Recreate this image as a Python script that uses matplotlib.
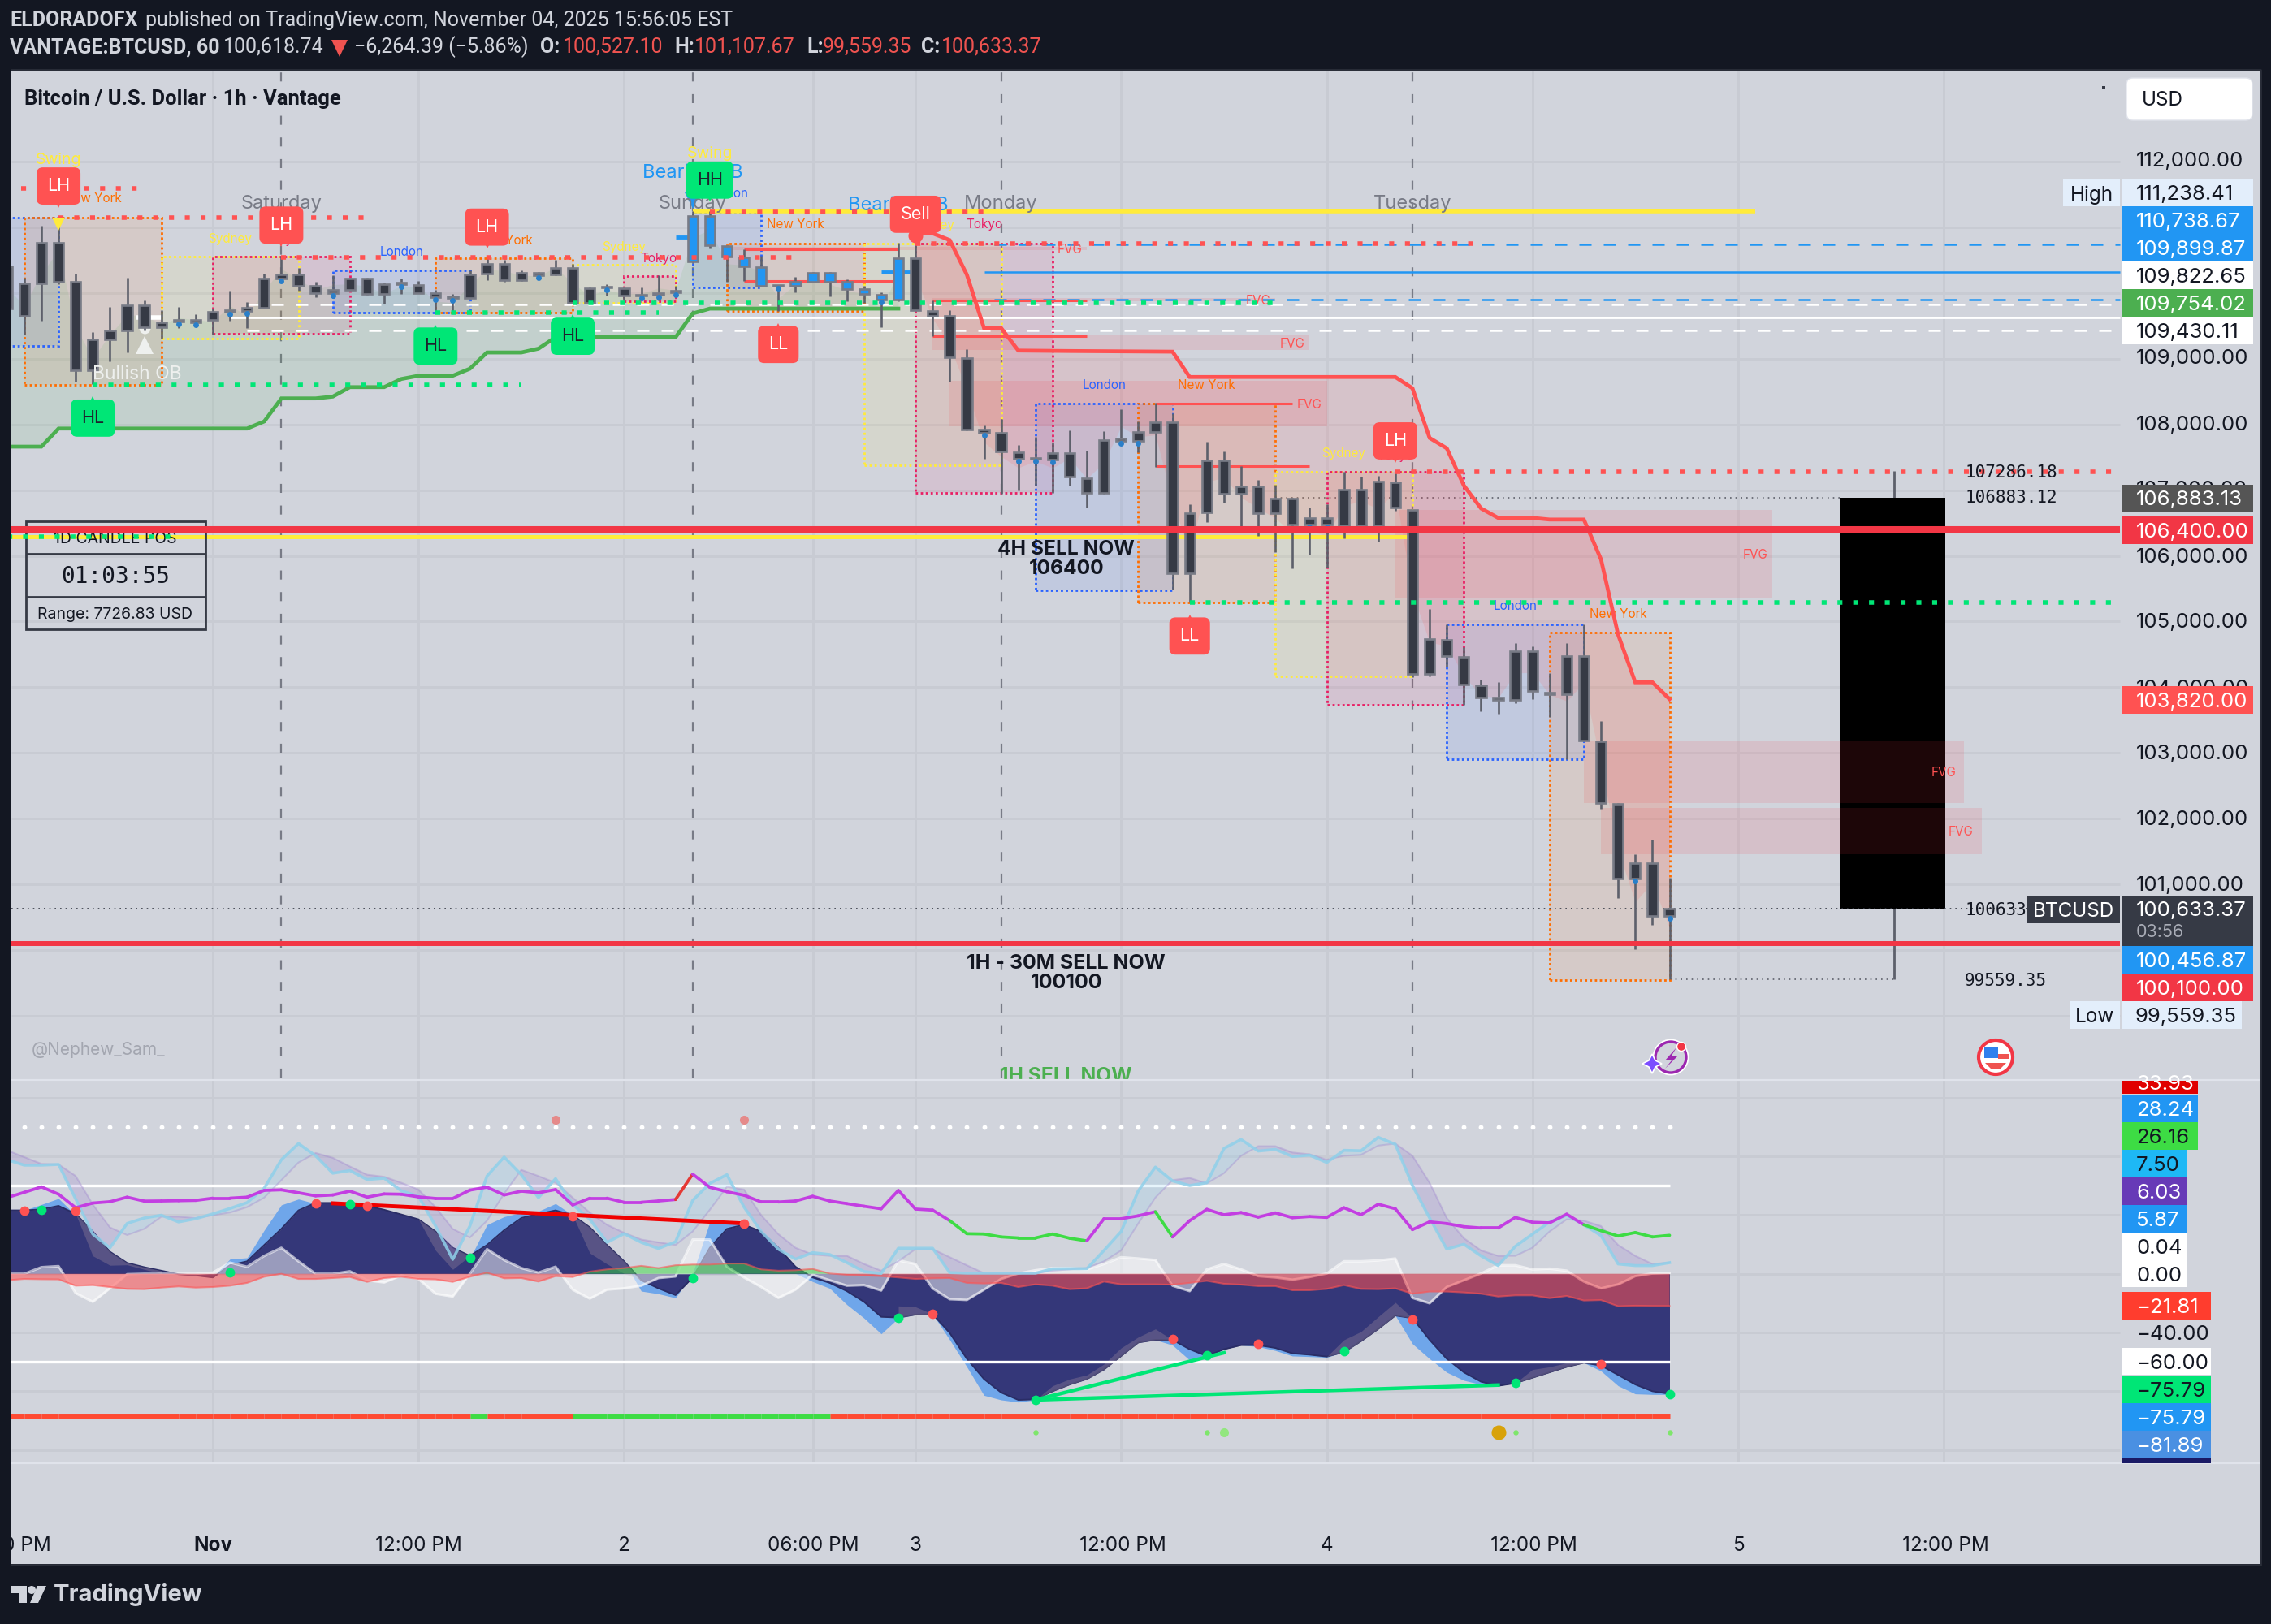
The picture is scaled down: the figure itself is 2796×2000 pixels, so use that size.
import numpy as np
import matplotlib
matplotlib.use("Agg")
import matplotlib.pyplot as plt
from matplotlib.patches import Rectangle, Circle, Polygon, FancyBboxPatch

W, H = 2796, 2000
BG = "#d1d4dc"
DARK = "#131722"
GRID = "#c8cbd3"

plt.rcParams["font.family"] = ["Inter", "DejaVu Sans"]

# -------- CANDLES (1h, hour 0 = Nov 1) --------
first_hour = -12
highs = [110398, 110234, 111016, 111160, 110296, 109398, 109781, 110226, 109884, 109731, 109781, 109670,
         109760, 110028, 109855, 110296, 110563, 110378, 110164, 110263, 110234, 110234, 110151, 110221,
         110184, 110048, 109979, 110345, 110522, 110501, 110345, 110312, 110501, 110440, 110081, 110131,
         110081, 110077, 110263, 110110, 111238, 111242, 110720, 110666, 110563, 110119, 110246, 110316,
         110316, 110205, 110110, 110007, 110761, 110761, 109884, 109740, 109143, 107982, 108077, 107686,
         107812, 107718, 107907, 107604, 107900, 108234, 108045, 108329, 108171, 106785, 107730, 107585,
         107371, 107151, 107081, 106880, 106735, 106785, 107277, 107207, 107214, 107270, 106703, 105197,
         104958, 104611, 104120, 104076, 104674, 104624, 104221, 104674, 104958, 103490, 102242, 101461,
         101681, 101108]
body_tops = [110398, 110139, 110757, 110757, 110172, 109287, 109423, 109814, 109814, 109546, 109583, 109583,
             109707, 109731, 109768, 110213, 110275, 110275, 110110, 110048, 110221, 110221, 110131, 110151,
             110123, 110000, 109941, 110283, 110440, 110440, 110304, 110308, 110378, 110378, 110069, 110090,
             110069, 109966, 110000, 110028, 111172, 111172, 110715, 110543, 110394, 110114, 110172, 110308,
             110308, 110164, 110061, 109974, 110530, 110530, 109727, 109645, 109011, 107919, 107875, 107573,
             107491, 107560, 107560, 107182, 107762, 107781, 107888, 108033, 108033, 106646, 107453, 107453,
             107056, 107056, 106873, 106873, 106571, 106571, 107006, 107006, 107132, 107119, 106703, 104731,
             104718, 104460, 104032, 103843, 104548, 104548, 103924, 104473, 104473, 103175, 102229, 101322,
             101322, 100633]
body_bots = [109760, 109645, 110139, 110172, 108822, 108822, 109287, 109423, 109472, 109472, 109567, 109554,
             109583, 109715, 109719, 109768, 110213, 110110, 109995, 109995, 110048, 109979, 109979, 110131,
             110000, 109933, 109925, 109917, 110287, 110188, 110193, 110271, 110275, 109851, 109851, 110077,
             109954, 109954, 109966, 110003, 110481, 110720, 110551, 110398, 110102, 110106, 110102, 110172,
             110164, 110061, 109979, 109892, 109892, 109740, 109649, 109019, 107916, 107875, 107585, 107472,
             107472, 107459, 107207, 106955, 106955, 107743, 107749, 107888, 105733, 105733, 106659, 106943,
             106943, 106646, 106646, 106470, 106470, 106470, 106464, 106464, 106464, 106735, 104202, 104202,
             104473, 104044, 103843, 103811, 103811, 103943, 103893, 103893, 103194, 102242, 101095, 101095,
             100528, 100527]
lows = [109760, 109369, 109575, 110131, 108649, 108607, 108957, 109093, 109431, 109307, 109464, 109505,
        109369, 109575, 109464, 109760, 110172, 110028, 109933, 109987, 110040, 109966, 109834, 109987,
        110000, 109699, 109719, 109904, 110193, 110172, 110184, 110205, 110271, 109843, 109843, 109958,
        109884, 109904, 109884, 109966, 110452, 110674, 110164, 110180, 110090, 109719, 110007, 110164,
        109946, 109871, 109851, 109480, 109876, 109727, 109340, 108649, 107908, 107478, 106943, 106993,
        107069, 106955, 107069, 106741, 106943, 107699, 107573, 107352, 105493, 105304, 106514, 106804,
        106407, 106300, 106060, 105808, 106016, 105827, 106262, 106451, 106218, 106691, 104158, 104170,
        104309, 103729, 103635, 103603, 103761, 103824, 103553, 102910, 103181, 102154, 100799, 100012,
        100390, 99559]
blue_hours = [28, 29, 30, 31, 32, 34, 35, 36, 37, 38, 39, 40]
dot_hours = [-2, -1, 1, 2, 4, 7, 11, 13, 14, 19, 23, 25, 26, 27, 33, 39, 45, 47, 48, 49, 53, 54, 64, 65, 83, 85]

# -------- TREND LINES --------
green_hours = [-12, -10, -9, 2, 3, 4, 6, 7, 8, 10, 11, 12, 14, 15, 16, 18, 19, 20, 27, 28, 29, 40]
green_trend = [107661, 107661, 107936, 107936, 108044, 108394, 108394, 108422, 108566, 108566, 108690, 108739,
               108739, 108846, 109093, 109093, 109151, 109324, 109324, 109686, 109760, 109760]
red_hours = [41, 42, 43, 44, 45, 46, 47, 50, 56, 57, 69, 70, 71, 72, 73, 74, 75, 77, 78, 80, 81, 82, 83, 84, 85]
red_trend = [110905, 110905, 110802, 110275, 109464, 109464, 109122, 109115, 109105, 108720, 108720, 108549,
             107793, 107636, 107069, 106722, 106577, 106577, 106552, 106552, 105947, 104800, 104076, 104076, 103820]

# -------- SESSIONS: name, start hour, end hour, high, low --------
sessions = [
    ("London", -12, -9, 111148, 109192), ("New York", -11, -3, 111148, 108599),
    ("Sydney", -3, 5, 110555, 109307), ("Tokyo", 0, 8, 110555, 109377),
    ("London", 7, 15, 110345, 109698), ("New York", 13, 21, 110530, 109698),
    ("Sydney", 21, 27, 110427, 109843), ("Tokyo", 24, 27, 110254, 109876),
    ("London", 28, 32, 111234, 110081), ("New York", 30, 38, 110748, 109719),
    ("Sydney", 38, 46, 110748, 107381), ("Tokyo", 41, 49, 110748, 106961),
    ("London", 48, 56, 108316, 105481), ("New York", 54, 62, 108316, 105292),
    ("Sydney", 62, 70, 107277, 104170), ("Tokyo", 65, 73, 107277, 103729),
    ("London", 72, 80, 104958, 102910), ("New York", 78, 85, 104832, 99552),
]
session_colors = {"London": "#2962ff", "New York": "#ff6d00", "Sydney": "#ffeb3b", "Tokyo": "#e91e63"}
session_labels = [
    ("New York", -7, 111430), ("Sydney", 1, 110815), ("Tokyo", 4, 110800), ("London", 11, 110615),
    ("New York", 17, 110795), ("Sydney", 24, 110690), ("Tokyo", 26, 110525), ("London", 30, 111505),
    ("New York", 34, 111040), ("Sydney", 42, 111030), ("Tokyo", 45, 111040), ("London", 52, 108595),
    ("New York", 58, 108595), ("Sydney", 66, 107555), ("Tokyo", 69, 107525), ("London", 76, 105240),
    ("New York", 82, 105110),
]

# -------- FVG: start, end, high, low, label hour --------
fvgs = [
    (30, 51, 110695, 110645, 50), (42, 62, 109920, 109870, 61), (42, 64, 109357, 109130, 63),
    (43, 65, 108660, 107970, 64), (69, 91, 106697, 105368, 90), (80, 102.2, 103190, 102240, 101),
    (81, 103.2, 102170, 101460, 102),
]

# -------- LEVELS --------
red_dotted = [(-11.2, -4, 111588), (-9, 9, 111144), (4, 34, 110545), (29, 45, 111234), (41, 73.7, 110748), (69, 111.4, 107277)]
green_dotted = [(-7, 18, 108599), (13, 26, 109699), (21, 62, 109847), (57, 111.4, 105292), (-12, -2.4, 106290)]
thin_red = [(31, 40, 110666), (31, 40, 110180), (42, 51, 109884), (42, 51, 109345), (55, 63, 108319), (55, 64, 107359)]

# -------- TAGS: hour, price, text, colour, text colour, pointer --------
RED_TAG = "#ff5252"
GREEN_TAG = "#00e676"
tags = [
    (-9, 111625, "LH", RED_TAG, "white", "v"), (4, 111030, "LH", RED_TAG, "white", "v"),
    (16, 111000, "LH", RED_TAG, "white", "v"), (-7, 108095, "HL", GREEN_TAG, "#1e222d", "^"),
    (13, 109190, "HL", GREEN_TAG, "#1e222d", "^"), (21, 109340, "HL", GREEN_TAG, "#1e222d", "^"),
    (29, 111715, "HH", GREEN_TAG, "#1e222d", "v"), (41, 111195, "Sell", RED_TAG, "white", "v"),
    (33, 109215, "LL", RED_TAG, "white", "^"), (57, 104780, "LL", RED_TAG, "white", "^"),
    (69, 107748, "LH", RED_TAG, "white", "v"),
]

# -------- OSCILLATOR --------
osc_magenta = [51.9, 55.5, 59.2, 54.2, 45.0, 48.2, 49.1, 52.2, 49.5, 49.6, 49.8, 50.0, 51.5, 51.5, 52.2, 56.8,
               57.2, 55.2, 53.1, 53.7, 56.3, 52.2, 54.4, 54.2, 52.4, 51.3, 51.3, 57.0, 59.0, 53.7, 56.3, 55.2,
               57.4, 46.9, 51.5, 51.5, 48.7, 48.7, 49.6, 50.6, 67.9, 58.9, 55.9, 53.5, 48.9, 48.9, 49.6, 52.8,
               49.6, 47.8, 46.0, 44.3, 56.8, 44.1, 43.4, 36.2, 27.3, 27.1, 25.1, 24.4, 24.4, 27.1, 24.2, 22.4,
               37.5, 37.5, 39.5, 42.3, 25.1, 36.2, 43.9, 40.2, 41.7, 38.6, 41.5, 38.2, 39.0, 38.4, 45.0, 40.2,
               47.4, 44.3, 30.1, 35.4, 34.2, 32.1, 31.2, 31.2, 38.4, 35.1, 34.7, 40.6, 33.4, 29.4, 25.7, 28.1,
               25.1, 26.2]
osc_fast = [77.7, 74.0, 74.0, 74.5, 50.9, 27.0, 17.7, 34.3, 38.0, 39.9, 35.3, 37.5, 40.8, 44.5, 48.5, 58.3,
            77.7, 88.7, 80.4, 68.5, 70.3, 64.2, 65.1, 56.5, 52.8, 32.5, 9.8, 32.5, 66.6, 79.5, 67.5, 51.9,
            64.8, 47.2, 37.1, 21.4, 27.3, 21.4, 17.2, 21.8, 50.0, 61.6, 67.5, 45.4, 28.8, 16.8, 10.0, 14.4,
            13.1, 7.6, 1.5, 0.2, 17.4, 17.4, 17.4, 0.8, 0.4, 0.4, 0.4, 0.4, 0.4, 3.4, 3.5, 3.5,
            15.9, 28.8, 56.5, 72.7, 63.3, 60.1, 62.0, 85.4, 91.5, 83.6, 84.7, 79.9, 80.8, 75.8, 84.1, 83.8,
            93.0, 88.2, 60.1, 38.0, 16.8, 20.1, 12.2, 5.6, 18.7, 27.0, 35.3, 39.9, 33.4, 26.0, 6.7, 5.6,
            5.6, 7.6]
osc_lag = [84.1, 79.5, 74.9, 74.5, 66.6, 47.2, 31.6, 26.4, 30.6, 38.9, 38.9, 38.0, 39.9, 41.7, 45.4, 51.9,
           63.8, 75.8, 82.3, 79.0, 73.1, 67.5, 66.1, 62.0, 57.4, 45.4, 30.6, 24.7, 36.2, 54.6, 70.8, 66.6,
           62.0, 51.9, 41.7, 33.4, 27.9, 23.3, 21.4, 19.6, 28.8, 43.6, 59.2, 57.4, 39.9, 27.0, 17.7, 13.1,
           12.2, 12.2, 6.7, 2.1, 8.5, 16.8, 16.8, 11.3, 5.8, 0.4, 0.4, 0.4, 0.4, 2.1, 3.0, 3.9,
           8.5, 15.9, 34.3, 51.9, 63.8, 65.3, 61.6, 68.5, 80.4, 86.9, 86.9, 82.6, 81.4, 77.7, 80.4, 81.0,
           87.3, 88.7, 80.4, 62.0, 38.0, 24.2, 15.9, 12.2, 12.2, 17.7, 28.8, 37.1, 36.2, 32.5, 19.6, 12.2,
           6.7, 7.6]
wave_slow = [43.2, 43.2, 43.9, 46.3, 40.8, 28.8, 15.0, 7.4, 4.5, 2.1, -0.3, -1.1, -2.5, 5.8, 8.5, 19.6,
             30.6, 43.2, 48.3, 48.3, 47.2, 46.3, 43.6, 40.4, 37.1, 28.8, 17.7, 12.2, 19.6, 29.7, 38.0, 40.8,
             43.2, 39.9, 31.6, 19.6, 8.5, -4.4, -9.9, -14.5, -2.5, 17.7, 30.6, 33.4, 28.8, 17.7, 4.8, -2.5,
             -6.2, -11.8, -19.1, -29.3, -29.8, -27.8, -27.4, -40.3, -57.9, -71.7, -80.9, -85.9, -85.5, -80.0, -75.4, -71.7,
             -65.2, -56.0, -46.8, -45.0, -45.0, -51.4, -56.0, -51.4, -48.6, -48.6, -50.5, -54.2, -55.1, -56.4, -53.3, -45.9,
             -37.6, -28.4, -30.2, -45.0, -57.9, -67.1, -73.5, -76.3, -74.5, -70.8, -67.1, -63.4, -60.6, -62.5, -68.9, -75.4,
             -80.0, -81.8]
wave_fast = [43.2, 43.2, 47.2, 51.3, 39.9, 27.0, 15.0, 7.4, 4.5, 2.1, -0.3, -1.1, -2.5, 10.0, 10.9, 29.7,
             46.9, 50.9, 47.8, 48.0, 47.2, 45.9, 38.6, 38.6, 36.6, 27.0, 15.9, 10.4, 33.4, 38.9, 41.7, 42.6,
             47.8, 39.9, 31.6, 19.6, 8.5, -11.8, -13.6, -16.4, 0.2, 35.3, 34.7, 34.3, 27.0, 12.2, 0.2, -5.3,
             -9.9, -21.0, -30.2, -40.9, -30.2, -27.8, -27.4, -45.0, -63.4, -82.8, -85.9, -87.4, -85.9, -80.0, -75.4, -71.7,
             -65.2, -56.0, -46.8, -45.0, -48.6, -58.8, -57.9, -51.4, -48.6, -49.6, -52.3, -56.0, -56.4, -56.9, -53.3, -45.9,
             -37.6, -28.4, -47.7, -57.9, -67.1, -72.6, -75.4, -76.3, -74.5, -70.8, -67.1, -63.4, -60.6, -66.2, -76.3, -81.8,
             -82.2, -82.2]
# lagging shade on the wave, only where it shows
shade_spans = [
    ([-8, -7, -6, -5, -4, -3], [40.8, 12.2, 5.8, 6.1, 3.0, 0.2]),
    ([12, 13, 14, 15], [37.1, 15.9, 3.0, 12.2]),
    ([21, 22, 23, 24, 25], [39.9, 14.1, 6.7, 0.2, -4.4]),
    ([40, 41, 42], [-21.9, -22.5, -27.4]),
    ([48, 49, 50, 51, 52, 53, 54, 55, 56], [-85.9, -76.3, -71.7, -68.9, -61.5, -50.5, -43.1, -37.6, -45.0]),
    ([65, 66, 67, 68, 69, 70], [-56.4, -45.0, -39.4, -29.3, -19.5, -30.2]),
    ([76, 77, 78, 79, 80, 81], [-74.5, -65.2, -63.4, -60.6, -60.6, -62.5]),
]
osc_white = [0.0, 0.0, 4.5, 5.2, -13.2, -19.1, -9.9, -0.3, 0.0, 0.0, 0.0, 0.0, 0.8, 7.6, 4.8, 12.2,
             17.7, 8.5, 0.0, 0.0, 1.7, -4.4, -5.9, -1.1, -3.5, -13.6, -15.5, 0.0, 16.8, 9.4, 3.9, 0.8,
             4.8, -10.8, -16.9, -10.8, -9.9, -8.1, -2.9, -1.8, 23.3, 23.3, 4.8, -2.5, -9.0, -16.4, -10.8, -0.7,
             -4.4, -8.1, -7.7, -11.4, 9.1, 6.7, -9.9, -17.3, -17.8, -10.8, -3.5, 0.2, 2.4, 3.9, 3.9, 3.0,
             6.7, 11.3, 10.4, 9.4, -8.1, -11.8, 3.0, 6.7, 3.0, -1.6, -2.5, -4.0, -2.2, 0.2, 8.5, 8.5,
             9.1, 10.4, -16.4, -20.1, -9.0, -4.4, 0.2, 5.8, 5.8, 3.0, 3.5, 2.1, -5.3, -9.9, -7.2, -1.6,
             0.2, 0.6]
osc_flow = [-4.4, -3.5, -3.7, -3.8, -8.1, -7.7, -9.0, -10.3, -10.5, -9.4, -8.6, -9.4, -9.0, -8.1, -6.2, -2.0,
            0.0, -3.5, -3.5, -2.9, -2.2, -5.5, -2.9, -2.0, -3.5, -3.8, -5.5, -2.0, 0.8, -3.1, -2.9, -5.3,
            -1.6, -2.2, 1.5, 3.0, 3.9, 5.4, 3.9, 5.8, 6.3, 6.3, 7.0, 7.0, 3.0, 2.1, 2.4, 3.3,
            0.2, -0.7, -1.1, -1.6, -2.5, -3.5, -3.1, -2.9, -6.2, -6.6, -6.2, -9.0, -7.2, -8.1, -10.5, -9.9,
            -5.3, -7.2, -7.2, -7.2, -7.4, -6.2, -4.8, -6.8, -7.4, -8.4, -8.4, -11.2, -11.2, -10.3, -7.7, -10.3,
            -10.5, -9.9, -13.6, -12.1, -12.1, -12.7, -13.6, -15.5, -14.7, -14.7, -16.6, -15.1, -18.2, -17.9, -22.1, -21.7,
            -21.9, -21.9]
magenta_green = [(43, 51), (55, 56), (80, 85)]
bar_green = [(15, 16), (21, 36)]
dots_red = [(-11, 42.8), (-8, 42.8), (6, 48.0), (9, 46.5), (21, 39.0), (31, 34.3), (42, -27.0), (56, -44.4), (61, -47.7), (70, -31.1), (81, -61.6)]
dots_green = [(-10, 43.6), (1, 1.0), (8, 47.6), (15, 10.9), (28, -2.9), (40, -29.8), (48, -85.9), (58, -55.5), (66, -52.7), (76, -74.1), (85, -81.8)]
pink_dots = [20, 31]

# -------- SCALES --------
X0, BAR = 262.0, 21.1
Y_REF, P_REF, PX_PER_USD = 198.7, 112000.0, 0.08097
OSC_ZERO, OSC_PX = 1568.7, 1.808

def h_of(x):
    return (x - X0) / BAR

def p_of(y):
    return P_REF - (y - Y_REF) / PX_PER_USD

def v_of(y):
    return (OSC_ZERO - y) / OSC_PX

hours = np.arange(first_hour, first_hour + len(highs))
highs, lows = np.array(highs, float), np.array(lows, float)
tops, bots = np.array(body_tops, float), np.array(body_bots, float)
mid = (highs + lows) / 2

fig = plt.figure(figsize=(W / 100, H / 100), dpi=100, facecolor=DARK)
L, R = 14, 2782
ax = fig.add_axes([L / W, 1 - 1329 / H, (R - L) / W, (1329 - 87) / H], facecolor=BG)
ax2 = fig.add_axes([L / W, 1 - 1802 / H, (R - L) / W, (1802 - 1330) / H], facecolor=BG)
ui = fig.add_axes([0, 0, 1, 1], zorder=10)
ui.set_xlim(0, W)
ui.set_ylim(H, 0)
ui.axis("off")
ui.patch.set_alpha(0)

ax.set_xlim(h_of(L), h_of(R))
ax.set_ylim(p_of(1329), p_of(87))
ax2.set_xlim(h_of(L), h_of(R))
ax2.set_ylim(v_of(1802), v_of(1330))
for a in (ax, ax2):
    a.set_xticks([])
    a.set_yticks([])
    for s in a.spines.values():
        s.set_visible(False)

# -------- GRID --------
grid_hours = [0, 12, 24, 35, 41, 53, 65, 77, 89, 101]
grid_end = h_of(2610)
ax.hlines(np.arange(99000, 113000, 1000), h_of(L), grid_end, color=GRID, lw=2, zorder=1)
ax.vlines(grid_hours, p_of(1329), p_of(87), color=GRID, lw=2, zorder=1)
ax2.hlines(np.arange(-120, 121, 40), h_of(L), grid_end, color=GRID, lw=2, zorder=1)
ax2.vlines(grid_hours, v_of(1802), v_of(1330), color=GRID, lw=2, zorder=1)

for day_hour in [4, 28, 46, 70]:
    ax.vlines(day_hour, p_of(1327), p_of(87), color="#787b86", lw=1.6, linestyles=(0, (5, 7)), zorder=2)

# -------- BLACK WEEKLY BOX --------
ax.vlines(h_of(2332), 99559.35, 107286.18, color="#5d606b", lw=2, zorder=2)
ax.bar((h_of(2265) + h_of(2395)) / 2, 106883.12 - 100633.37, bottom=100633.37, width=h_of(2395) - h_of(2265), color="black", zorder=2.5)
ax.hlines(106883.12, 62, h_of(2265), color="#5d606b", lw=1.2, linestyles=(0, (1, 3)), zorder=2)
ax.hlines(99559.35, 85, h_of(2332), color="#5d606b", lw=1.2, linestyles=(0, (1, 3)), zorder=2)

# -------- FVG AND SESSIONS --------
for start, end, top, bot, lab in fvgs:
    ax.add_patch(Rectangle((start, bot), end - start, top - bot, fc="#f23645", ec="none", alpha=0.12, zorder=3))
    ax.text(lab, (top + bot) / 2 - 15, "FVG", color="#ff5252", fontsize=11, ha="center", va="center", zorder=8)
for name, start, end, top, bot in sessions:
    c = session_colors[name]
    ax.add_patch(Rectangle((start, bot), end - start, top - bot, fc=c, ec="none", alpha=0.09, zorder=3))
    ax.add_patch(Rectangle((start, bot), end - start, top - bot, fc="none", ec=c, lw=2, ls=(0, (1, 1.2)), zorder=4))
for name, h, p in session_labels:
    ax.text(h, p, name, color=session_colors[name], fontsize=11, ha="center", va="center", zorder=5)

# -------- TREND LINES --------
g_line = np.interp(hours[hours <= 40], green_hours, green_trend)
ax.fill_between(hours[hours <= 40], g_line, mid[hours <= 40], color="#4caf50", alpha=0.1, lw=0, zorder=3)
r_line = np.interp(hours[hours >= 41], red_hours, red_trend)
ax.fill_between(hours[hours >= 41], r_line, mid[hours >= 41], color="#ff5252", alpha=0.13, lw=0, zorder=3)
ax.plot(green_hours, green_trend, color="#4caf50", lw=3.4, zorder=6, solid_joinstyle="miter")

# -------- LEVELS --------
ax.hlines(111238.41, 28, 90, color="#ffeb3b", lw=4, zorder=4)
ax.hlines(106290, h_of(L), 70, color="#ffeb3b", lw=3.6, zorder=4)
for level in (110738.67, 109899.87):
    ax.hlines(level, 45.6, grid_end, color="#2196f3", lw=1.8, linestyles=(0, (6, 6)), zorder=4)
ax.hlines(110316, 45, grid_end, color="#2196f3", lw=1.8, zorder=4)
ax.hlines(110316, 39, 41, color="#2196f3", lw=3.5, zorder=4)
ax.hlines(110851, 27, 28, color="#2196f3", lw=3.5, zorder=4)
for level in (109822.65, 109430.11):
    ax.hlines(level, 2, grid_end, color="white", lw=1.8, linestyles=(0, (6, 6)), zorder=4)
ax.hlines(109629, 1, grid_end, color="white", lw=2, zorder=4)
ax.hlines(109629, -4.5, -3, color="white", lw=4, zorder=4)
for start, end, level in thin_red:
    ax.hlines(level, start, end, color="#ff5252", lw=2.2, zorder=4)
ax.hlines(100633.37, h_of(L), grid_end, color="#363a45", lw=1.2, linestyles=(0, (1, 3)), zorder=5)

# -------- CANDLES --------
ax.vlines(hours, lows, highs, color="#5d606b", lw=1.9, zorder=7)
face = ["#2196f3" if h in blue_hours else "#363a45" for h in hours]
ax.bar(hours, np.maximum(tops - bots, 18), bottom=bots, width=0.58, color=face, edgecolor="#787b86", lw=1.9, zorder=8)
dot_idx = [h - first_hour for h in dot_hours]
ax.plot(dot_hours, bots[dot_idx] - 35, "o", color="#2a7fc9", ms=5, mew=0, zorder=9)
ax.plot(red_hours, red_trend, color="#ff5252", lw=3.4, zorder=9, solid_joinstyle="miter")

for start, end, level in red_dotted:
    ax.hlines(level, start, end, color="#ff5252", lw=4, linestyles=(0, (1.1, 2.4)), zorder=9)
for start, end, level in green_dotted:
    ax.hlines(level, start, end, color="#00e676", lw=4, linestyles=(0, (1.1, 2.4)), zorder=9)

# 4H and 1H lines go over everything
ax.hlines(106400, h_of(L), grid_end, color="#f23645", lw=5.8, zorder=10)
ax.hlines(100100, h_of(L), grid_end, color="#f23645", lw=4.3, zorder=10)

# -------- TEXT IN THE PANE --------
for h, txt in [(4, "Saturday"), (28, "Sunday"), (46, "Monday"), (70, "Tuesday")]:
    ax.text(h, 111350, txt, color="#787b86", fontsize=17, ha="center", va="center", zorder=6)
ax.text(28, 111825, "Bearish OB", color="#2196f3", fontsize=17, ha="center", va="center", zorder=6)
ax.text(40, 111330, "Bearish OB", color="#2196f3", fontsize=17, ha="center", va="center", zorder=6)
ax.text(-9, 112020, "Swing", color="#ffeb3b", fontsize=14, ha="center", va="center", zorder=6)
ax.text(29, 112120, "Swing", color="#ffeb3b", fontsize=14, ha="center", va="center", zorder=6)
ax.plot([-9, 29], [111050, 111490], "v", color="#ffeb3b", ms=11, mew=0, zorder=9)
ax.plot(28, 111400, "v", color="#2196f3", ms=14, mew=0, zorder=5)
ax.text(-4.4, 108765, "Bullish OB", color="#eef0ee", fontsize=16.5, ha="center", va="center", zorder=9)
ax.plot(-4, 109205, "^", color="#eef0ee", ms=16, mew=0, zorder=9)
ax.plot(-4, 109460, "o", color="#eef0ee", ms=10, mew=0, zorder=6)
ax.plot(41, 110872, "o", color="#ff5252", ms=13, mew=0, zorder=10)

for h, p, txt, fc, tc, pointer in tags:
    ax.text(h, p, txt, color=tc, fontsize=15.5, ha="center", va="center", zorder=12,
            bbox=dict(boxstyle="round,pad=0.6,rounding_size=0.35", fc=fc, ec="none"))
    dp = -255 if pointer == "v" else 255
    ax.plot(h, p + dp, pointer, color=fc, ms=9, mew=0, zorder=12)

ax.text(49.8, 106100, "4H SELL NOW", color="#131722", fontsize=17.7, fontweight="bold", ha="center", va="center", zorder=11)
ax.text(49.8, 105798, "106400", color="#131722", fontsize=17.7, fontweight="bold", ha="center", va="center", zorder=11)
ax.text(49.8, 99800, "1H - 30M SELL NOW", color="#131722", fontsize=18, fontweight="bold", ha="center", va="center", zorder=11)
ax.text(49.8, 99498, "100100", color="#131722", fontsize=18, fontweight="bold", ha="center", va="center", zorder=11)
ax.text(49.8, p_of(1326), "1H SELL NOW", color="#4caf50", fontsize=17.7, fontweight="bold", ha="center", va="center", zorder=11, clip_on=True)
ax.text(h_of(121), p_of(1293), "@Nephew_Sam_", color="#a3a6b0", fontsize=15, ha="center", va="center", zorder=6)
for y, txt in [(582, "107286.18"), (613, "106883.12"), (1121, "100633.37"), (1208, "99559.35")]:
    ax.text(h_of(2419), p_of(y), txt, color="#131722", fontsize=15, family="DejaVu Sans Mono", va="center", zorder=11)

# table on the left
ax.add_patch(Rectangle((h_of(32), p_of(775)), h_of(253) - h_of(32), p_of(642) - p_of(775), fc="none", ec="#363a45", lw=2, zorder=6))
ax.hlines([p_of(682), p_of(735)], h_of(32), h_of(253), color="#363a45", lw=2, zorder=6)
ax.text(h_of(142), p_of(664), "1D CANDLE POS", color="#131722", fontsize=14, ha="center", va="center", zorder=6)
ax.text(h_of(142), p_of(710), "01:03:55", color="#131722", fontsize=20, family="DejaVu Sans Mono", ha="center", va="center", zorder=6)
ax.text(h_of(142), p_of(757), "Range: 7726.83 USD", color="#131722", fontsize=14, ha="center", va="center", zorder=6)

# -------- OSCILLATOR --------
fast, lag = np.array(osc_fast), np.array(osc_lag)
slow_w, fast_w = np.array(wave_slow), np.array(wave_fast)
white_a, flow = np.array(osc_white), np.array(osc_flow)

ax2.fill_between(hours, 0, white_a, color="white", alpha=0.5, lw=0, zorder=5)
ax2.fill_between(hours, fast_w, slow_w, color="#6fa6ea", lw=0, zorder=3)
ax2.fill_between(hours, 0, slow_w, color="#343779", lw=0, zorder=4)
ax2.plot(hours, slow_w, color="#2a2d66", lw=1.4, zorder=4)
for span_h, span_v in shade_spans:
    base = np.interp(span_h, hours, slow_w)
    ax2.fill_between(span_h, base, span_v, color="#9c8a9c", alpha=0.35, lw=0, zorder=4.5)
ax2.plot(hours, white_a, color="white", alpha=0.6, lw=2.2, zorder=5)
ax2.fill_between(hours, 0, flow, where=flow <= 0, interpolate=True, color="#ff5252", alpha=0.55, lw=0, zorder=6)
ax2.fill_between(hours, 0, flow, where=flow >= 0, interpolate=True, color="#3ddc44", alpha=0.5, lw=0, zorder=6)
ax2.plot(hours, flow, color="#ff5252", alpha=0.6, lw=1.5, zorder=6)
ax2.fill_between(hours, fast, lag, where=lag >= fast, interpolate=True, color="#9575cd", alpha=0.22, lw=0, zorder=7)
ax2.fill_between(hours, fast, lag, where=fast >= lag, interpolate=True, color="#90d0f0", alpha=0.22, lw=0, zorder=7)
ax2.plot(hours, lag, color="#9575cd", alpha=0.3, lw=1.5, zorder=7)
ax2.plot(hours, fast, color="#8fd0ea", alpha=0.85, lw=2.6, zorder=7)

ax2.hlines([60, -60], hours[0], hours[-1], color="white", lw=2.4, zorder=5)

def magenta_col(h):
    if h == 27:
        return "#e53935"
    for a, b in magenta_green:
        if a <= h < b:
            return "#3ddc44"
    return "#c33ee2"

for i in range(len(hours) - 1):
    ax2.plot(hours[i:i + 2], osc_magenta[i:i + 2], color=magenta_col(hours[i]), lw=2.7, zorder=8, solid_capstyle="round")

ax2.plot([7, 31], [48.0, 34.3], color="#f00000", lw=3.5, zorder=9)
ax2.plot([48, 59], [-85.9, -53.8], color="#00e676", lw=3.2, zorder=9)
ax2.plot([48, 75], [-85.9, -75.8], color="#00e676", lw=3.2, zorder=9)
ax2.plot(*zip(*dots_red), "o", color="#ff5252", ms=8.5, mew=0, zorder=10)
ax2.plot(*zip(*dots_green), "o", color="#00e676", ms=8.5, mew=0, zorder=10)

ax2.plot(hours[1:], np.full(len(hours) - 1, 100), "o", color="white", ms=4.2, mew=0, zorder=6)
ax2.plot(pink_dots, [105, 105], "o", color="#e58a8a", ms=8, mew=0, zorder=6)
for h in hours[:-1]:
    col = "#ff4a32"
    for a, b in bar_green:
        if a <= h < b:
            col = "#3ddc44"
    ax2.plot([h, h + 1], [-97, -97], color=col, lw=5, solid_capstyle="butt", zorder=6)
ax2.plot([48, 58, 76, 85], [-107.8] * 4, "o", color="#7ee66b", ms=4.6, mew=0, zorder=6)
ax2.plot(59, -107.8, "o", color="#92e67f", ms=8, mew=0, zorder=6)
ax2.plot(75, -108, "o", color="#d8a20a", ms=13, mew=0, zorder=6)

# -------- UI: FRAME LINES --------
ui.add_patch(Rectangle((0, 0), L, H, fc=DARK, ec="none", zorder=20))
ui.plot([L, R], [1329.5, 1329.5], color="#e0e3eb", lw=1.6, zorder=2)
ui.plot([L, R], [1802, 1802], color="#e0e3eb", lw=1.6, zorder=2)
ui.add_patch(Rectangle((L, 1803), R - L, 123, fc=BG, ec="none", zorder=1))
ui.plot([12, R + 1, R + 1, 12, 12], [86, 86, 1927, 1927, 86], color="#2a2e39", lw=2, zorder=19)

# -------- UI: HEADER --------
HDR = "#d1d4dc"
HDR_FS = 18
ui.text(12, 25, "ELDORADOFX", color=HDR, fontsize=HDR_FS, fontweight="bold", va="center", family="Roboto", zorder=21)
ui.text(179, 25, "published on TradingView.com, November 04, 2025 15:56:05 EST", color=HDR, fontsize=HDR_FS, va="center", family="Roboto", zorder=21)
ui.text(12, 58, "VANTAGE:BTCUSD, 60", color=HDR, fontsize=HDR_FS, fontweight="bold", va="center", family="Roboto", zorder=21)
ui.text(275, 58, "100,618.74", color=HDR, fontsize=HDR_FS, va="center", family="Roboto", zorder=21)
ui.add_patch(Polygon([(408, 49), (428, 49), (418, 70)], fc="#ef5350", ec="none", zorder=21))
ui.text(436, 58, "\u22126,264.39 (\u22125.86%)", color=HDR, fontsize=HDR_FS, va="center", family="Roboto", zorder=21)
for x, lab, vx, val in [(665, "O:", 693, "100,527.10"), (830, "H:", 855, "101,107.67"), (993, "L:", 1013, "99,559.35"), (1134, "C:", 1159, "100,633.37")]:
    ui.text(x, 58, lab, color=HDR, fontsize=HDR_FS, fontweight="bold", va="center", family="Roboto", zorder=21)
    ui.text(vx, 58, val, color="#ef5350", fontsize=HDR_FS, va="center", family="Roboto", zorder=21)
ui.text(30, 122, "Bitcoin / U.S. Dollar \u00b7 1h \u00b7 Vantage", color=DARK, fontsize=18.4, fontweight="bold", va="center", family="Roboto")

# USD box
ui.add_patch(FancyBboxPatch((2622, 100), 147, 44, boxstyle="round,pad=4,rounding_size=8", fc="white", ec="#e0e3eb", lw=1))
ui.text(2637, 123, "USD", color=DARK, fontsize=17.5, va="center")
ui.add_patch(Rectangle((2588, 106), 4, 4, fc="#363a45", ec="none"))

# -------- UI: PRICE AXIS --------
TICK_FS = 18.5
NUDGE = 2.5

def tick(y, txt, col=DARK, x=2630):
    ui.text(x, y + NUDGE, txt, color=col, fontsize=TICK_FS, va="center", zorder=3)

def box(y0, y1, txt, fc, col="white", x1=2774, x=2630, sub=None):
    ui.add_patch(Rectangle((2612, y0), x1 - 2612, y1 - y0, fc=fc, ec="none", zorder=4))
    y_txt = (y0 + y1) / 2 + NUDGE if sub is None else y0 + 19
    ui.text(x, y_txt, txt, color=col, fontsize=TICK_FS, va="center", zorder=5)
    if sub is not None:
        ui.text(x, y0 + 45, sub, color="#a9acb6", fontsize=15.5, va="center", zorder=5)

for p, y in [("112,000.00", 196), ("109,000.00", 439), ("108,000.00", 521), ("107,000.00", 601), ("106,000.00", 684),
             ("105,000.00", 764), ("104,000.00", 846), ("103,000.00", 926), ("102,000.00", 1007), ("101,000.00", 1088)]:
    tick(y, p)

box(221, 254, "111,238.41", "#e3eefb", DARK)
box(254, 288, "110,738.67", "#2196f3")
box(288, 321.5, "109,899.87", "#2196f3")
box(321.5, 355.5, "109,822.65", "white", DARK)
box(356, 389.5, "109,754.02", "#4caf50")
box(390, 424, "109,430.11", "white", DARK)
box(596.5, 629.5, "106,883.13", "#555555")
box(636, 670, "106,400.00", "#f23645")
box(845, 879, "103,820.00", "#ff5252")
box(1103, 1165, "100,633.37", "#363a45", sub="03:56")
box(1165, 1199, "100,456.87", "#2196f3")
box(1199.5, 1232.5, "100,100.00", "#f23645")
box(1233, 1267, "99,559.35", "#e3eefb", DARK, x1=2760, x=2629)

for x0, y0, y1, txt, col, fc in [(2540, 221, 254, "High", DARK, "#e3eefb"), (2548, 1233, 1267, "Low", DARK, "#e3eefb"), (2496, 1103, 1137, "BTCUSD", "white", "#363a45")]:
    ui.add_patch(Rectangle((x0, y0), 2610 - x0, y1 - y0, fc=fc, ec="none", zorder=4))
    ui.text((x0 + 2610) / 2, (y0 + y1) / 2 + NUDGE, txt, color=col, fontsize=TICK_FS - 1, ha="center", va="center", zorder=5)

# -------- UI: OSCILLATOR AXIS --------
ui.add_patch(Rectangle((2612, 1331), 94, 16, fc="#e00000", ec="none", zorder=4))
ui.text(2630, 1336, "33.93", color="white", fontsize=TICK_FS, va="center", zorder=5, clip_on=True,
        clip_box=matplotlib.transforms.Bbox([[2612, H - 1347], [2706, H - 1331]]))
for y0, y1, txt, fc, col, x1 in [
    (1348, 1382, "28.24", "#2196f3", "white", 2706), (1382, 1415.5, "26.16", "#3ddc44", DARK, 2706),
    (1416, 1450, "7.50", "#1eb8f5", DARK, 2692), (1450, 1484, "6.03", "#673ab7", "white", 2692),
    (1484, 1518, "5.87", "#2196f3", "white", 2692), (1518, 1552, "0.04", "white", DARK, 2692),
    (1552, 1585, "0.00", "white", DARK, 2692), (1591, 1625, "\u221221.81", "#ff3d2e", "white", 2722),
    (1660, 1693, "\u221260.00", "white", DARK, 2722), (1694, 1728, "\u221275.79", "#00e676", DARK, 2722),
    (1728, 1762, "\u221275.79", "#2196f3", "white", 2722), (1762, 1796, "\u221281.89", "#4a90e2", "white", 2722),
]:
    box(y0, y1, txt, fc, col, x1=x1)
tick(1641, "\u221240.00")
ui.add_patch(Rectangle((2612, 1796), 110, 6, fc="#1a1a66", ec="none", zorder=4))

# -------- UI: TIME AXIS --------
for x, txt, wgt in [(9, "12:00 PM", "normal"), (262, "Nov", "bold"), (515, "12:00 PM", "normal"), (768, "2", "normal"),
                    (1001, "06:00 PM", "normal"), (1127, "3", "normal"), (1382, "12:00 PM", "normal"), (1633, "4", "normal"),
                    (1888, "12:00 PM", "normal"), (2140, "5", "normal"), (2395, "12:00 PM", "normal")]:
    ui.text(x, 1903, txt, color=DARK, fontsize=17.5, fontweight=wgt, ha="center", va="center", zorder=3)

# -------- UI: LOGO --------
ui.add_patch(Polygon([(12, 1953), (33, 1953), (33, 1974), (24, 1974), (24, 1962), (12, 1962)], fc=HDR, ec="none"))
ui.add_patch(Circle((39, 1958), 5, fc=HDR, ec="none"))
ui.add_patch(Polygon([(46, 1953), (57, 1953), (47, 1974), (37, 1974)], fc=HDR, ec="none"))
ui.text(66, 1964, "TradingView", color=HDR, fontsize=21, fontweight="bold", va="center", family="Inter")

# -------- UI: ICONS --------
ui.add_patch(Circle((2057, 1302), 21, fc=BG, ec="white", lw=2))
ui.add_patch(Circle((2057, 1302), 19, fc="none", ec="#9c27b0", lw=2.4))
ui.add_patch(Polygon([(2064, 1290), (2050, 1306), (2058, 1306), (2050, 1316), (2066, 1300), (2058, 1300)], fc="#9c27b0", ec="none"))
ui.add_patch(Circle((2070, 1289), 5.5, fc="#f23645", ec="white", lw=1))
ui.add_patch(Polygon([(2034, 1298), (2038, 1306), (2046, 1310), (2038, 1314), (2034, 1322), (2030, 1314), (2022, 1310), (2030, 1306)], fc="#7c4dff", ec="white", lw=1.2))
ui.add_patch(Circle((2457, 1302), 21, fc="white", ec="#f23645", lw=3))
ui.add_patch(Rectangle((2443, 1290), 17, 13, fc="#2f80ed", ec="none"))
ui.add_patch(Rectangle((2460, 1298), 14, 6, fc="#ef5350", ec="none"))
ui.add_patch(Polygon([(2444, 1309), (2470, 1309), (2462, 1317), (2452, 1317)], fc="#ef5350", ec="none"))

fig.savefig("out.png", dpi=100, facecolor=fig.get_facecolor())
